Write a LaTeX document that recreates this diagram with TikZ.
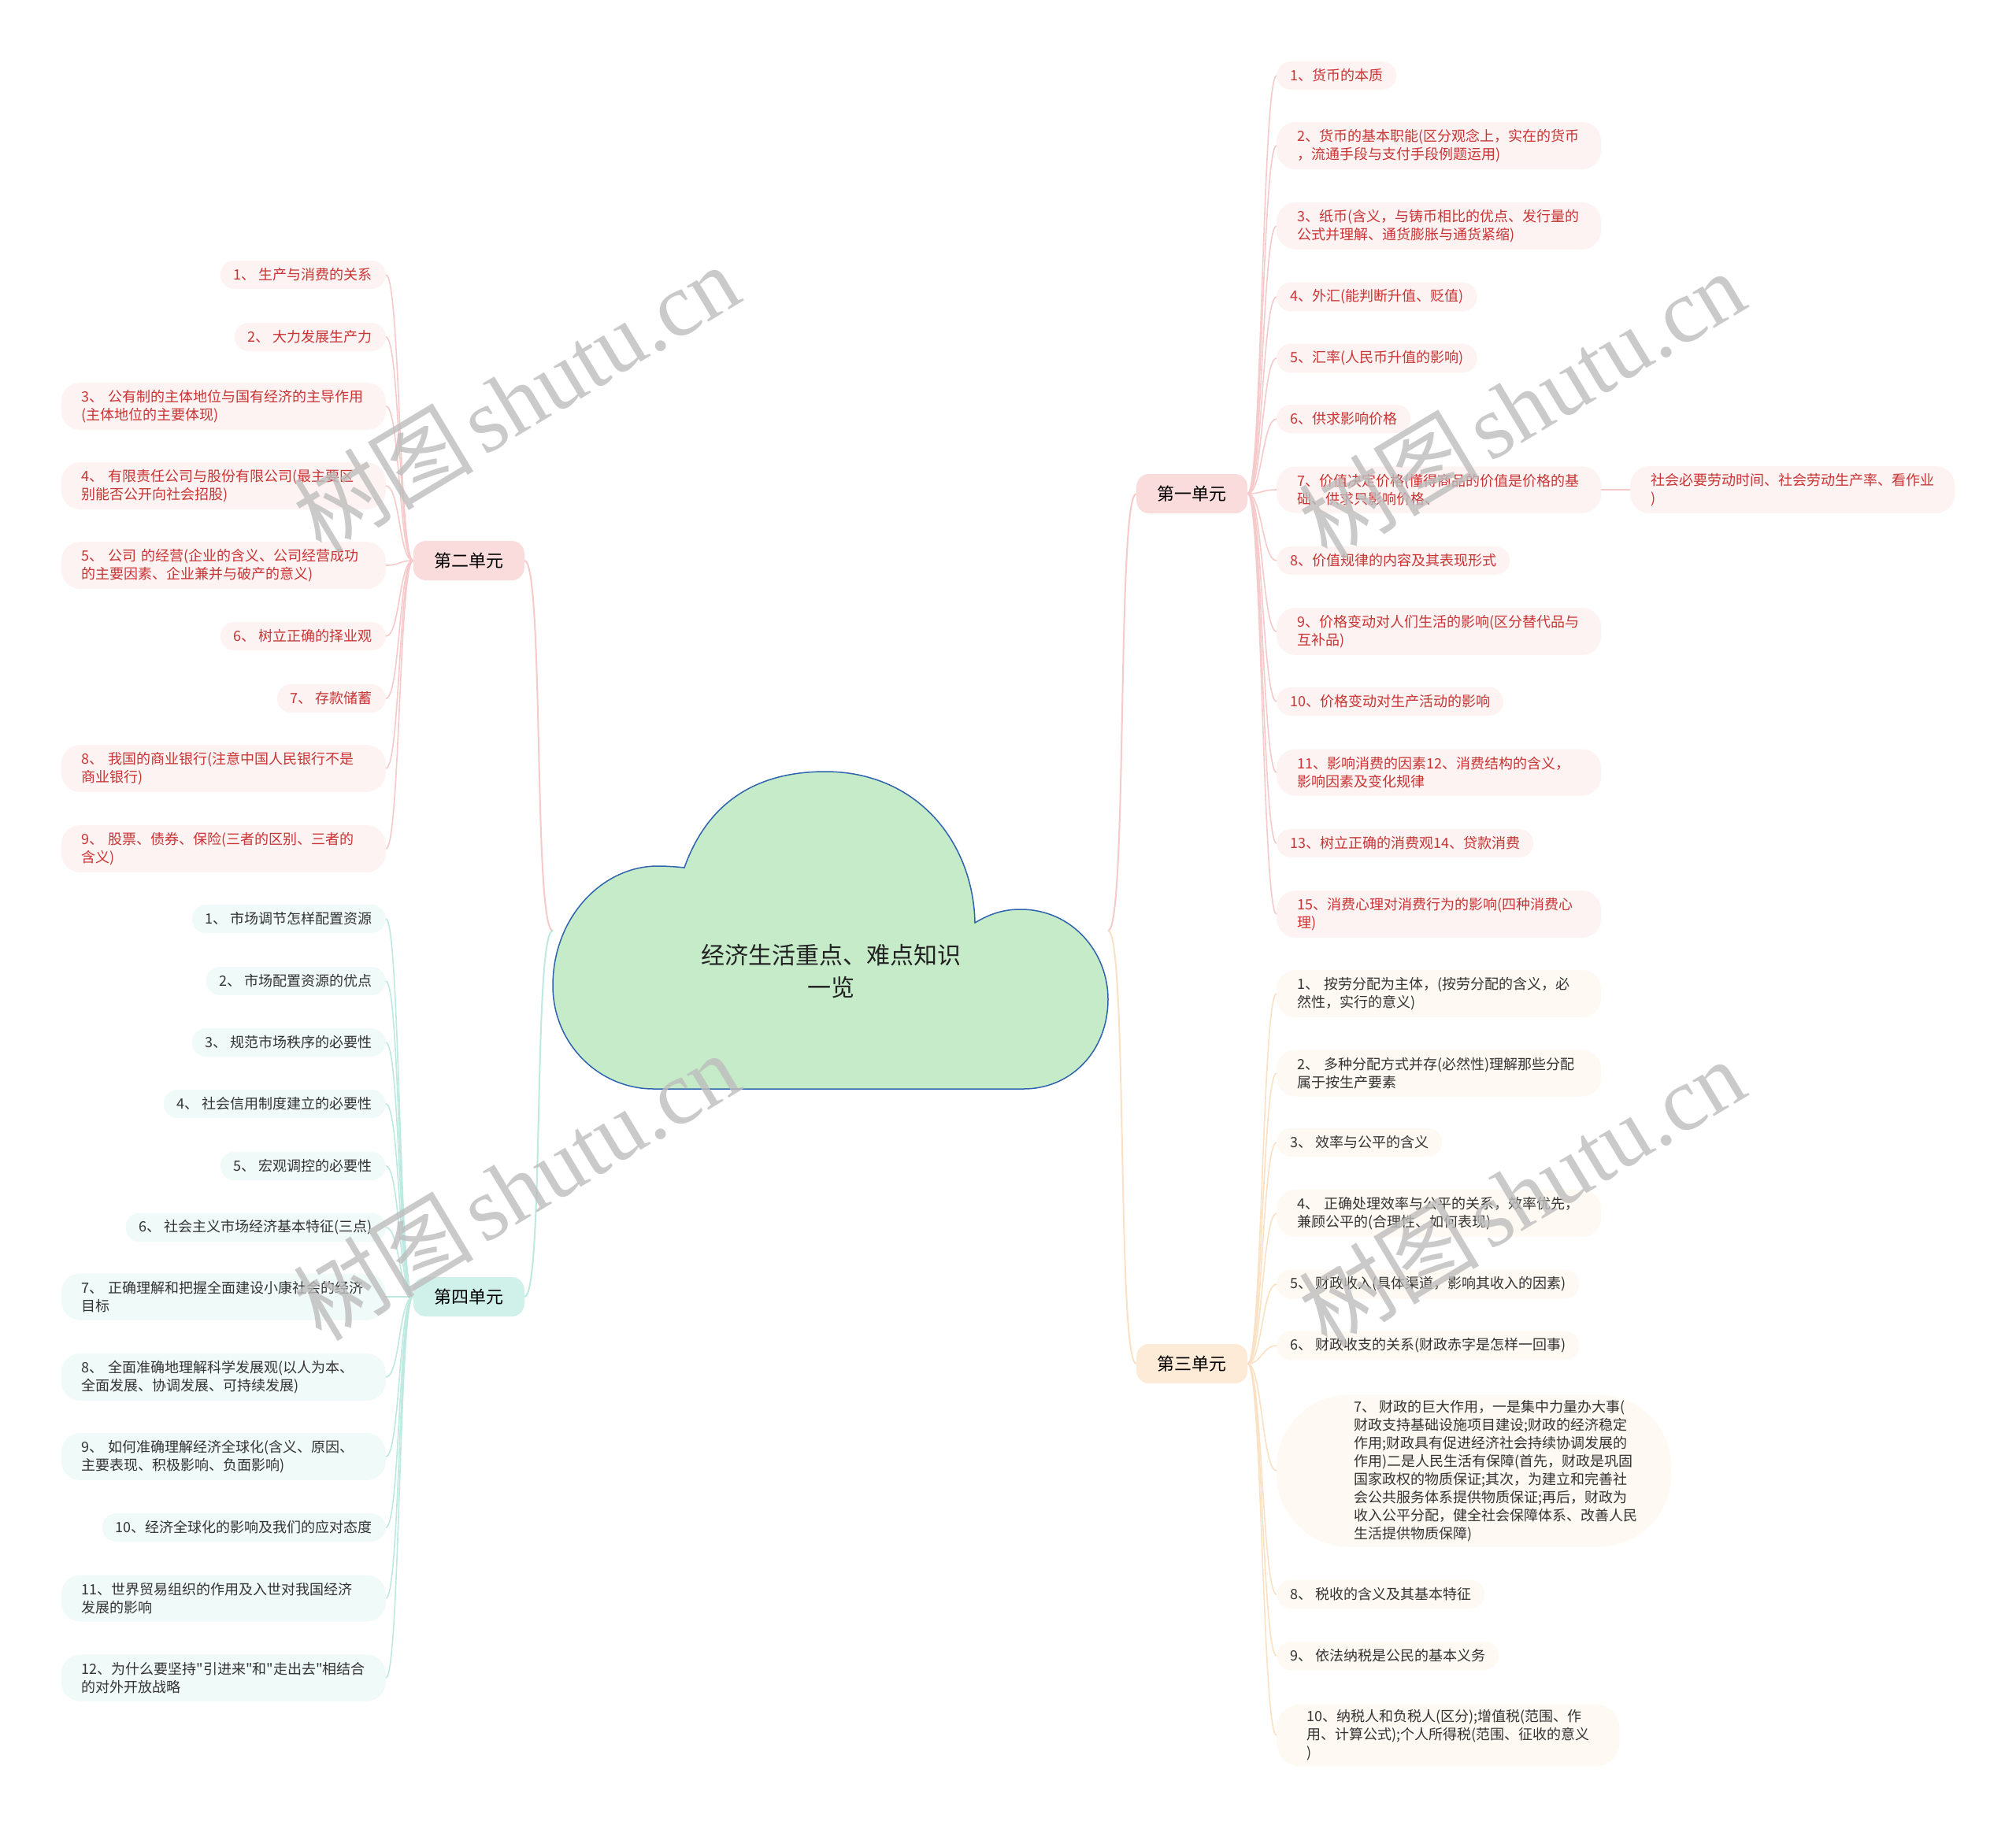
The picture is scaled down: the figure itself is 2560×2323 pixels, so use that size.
\documentclass[tikz,border=0pt]{standalone}
\usepackage{fontspec}
\setmainfont{Noto Sans CJK SC}
\newfontfamily\plainfont{Noto Sans CJK SC}
\newfontfamily\wmlatin{Liberation Serif}
\usetikzlibrary{calc}
\definecolor{pinkline}{HTML}{F6CACA}
\definecolor{peachline}{HTML}{FBE1C4}
\definecolor{tealline}{HTML}{BDE9E0}
\definecolor{pinkfill}{HTML}{FADCDC}
\definecolor{peachfill}{HTML}{FDEBD7}
\definecolor{tealfill}{HTML}{D0F1EA}
\definecolor{pinkleaf}{HTML}{FEF3F3}
\definecolor{peachleaf}{HTML}{FEF9F2}
\definecolor{tealleaf}{HTML}{F0FAF8}
\definecolor{redtext}{HTML}{C93434}
\definecolor{darktext}{HTML}{333333}
\definecolor{cloudfill}{HTML}{C6EBC9}
\definecolor{cloudline}{HTML}{2E63AE}
\definecolor{wmgray}{HTML}{BDBDBD}
\begin{document}
\begin{tikzpicture}[x=1pt,y=-1pt,
  unitbox/.style={rounded corners=16pt, minimum width=141pt, minimum height=50pt, inner sep=0pt, font=\fontsize{22}{26}\selectfont, text=black},
  leafbase/.style={rounded corners=18pt, align=left, font=\fontsize{18}{23}\selectfont, inner ysep=9pt},
  one/.style={leafbase, inner xsep=17pt, minimum height=36pt},
  two/.style={leafbase, inner xsep=26pt, text width=360pt, minimum height=59pt, rounded corners=24pt},
  r1/.style={fill=pinkleaf, text=redtext},
  r3/.style={fill=peachleaf, text=darktext},
  r4/.style={fill=tealleaf, text=darktext},
  pl/.style={draw=pinkline, line width=1.6pt},
  ol/.style={draw=peachline, line width=1.6pt},
  tl/.style={draw=tealline, line width=1.6pt},
  wm/.style={text=wmgray, opacity=0.8, font=\fontsize{115}{120}\selectfont, inner sep=0pt}
]
\useasboundingbox (0,0) rectangle (2560,2323);
\fill[white] (0,0) rectangle (2560,2323);

% cloud
\draw[fill=cloudfill, draw=cloudline, line width=1.5pt]
 (869,1102) .. controls (900,1015) and (965,980) .. (1048,980)
 .. controls (1165,980) and (1236,1070) .. (1238,1172)
 .. controls (1258,1160) and (1275,1155) .. (1296,1155)
 .. controls (1362,1155) and (1407,1210) .. (1407,1269)
 .. controls (1407,1335) and (1360,1383) .. (1300,1383)
 -- (830,1383)
 .. controls (760,1383) and (702,1325) .. (702,1252)
 .. controls (702,1165) and (765,1100) .. (835,1100)
 .. controls (848,1100) and (860,1101) .. (869,1102) -- cycle;
\node[font=\fontsize{30}{41}\selectfont, align=center, text={rgb,255:red,34;green,34;blue,34}] (root) at (1055,1234) {经济生活重点、难点知识\\一览};
\coordinate (cR) at (1407,1182);
\coordinate (cL) at (702,1182);

% unit nodes
\node[unitbox, fill=pinkfill, anchor=west] (u1) at (1443,627) {第一单元};
\node[unitbox, fill=pinkfill, anchor=east] (u2) at (666,712) {第二单元};
\node[unitbox, fill=peachfill, anchor=west] (u3) at (1443,1732) {第三单元};
\node[unitbox, fill=tealfill, anchor=east] (u4) at (666,1647) {第四单元};

\draw[pl, line width=2pt] (cR) .. controls (1432,1182) and (1418,627) .. (u1.west);
\draw[ol, line width=2pt] (cR) .. controls (1432,1182) and (1418,1732) .. (u3.west);
\draw[pl, line width=2pt] (cL) .. controls (677,1182) and (691,712) .. (u2.east);
\draw[tl, line width=2pt] (cL) .. controls (677,1182) and (691,1647) .. (u4.east);

% unit 1 leaves
\node[one,r1,anchor=west] (a1) at (1621,96) {1、货币的本质};
\node[two,r1,anchor=west] (a2) at (1621,185) {2、货币的基本职能(区分观念上，实在的货币\\，流通手段与支付手段例题运用)};
\node[two,r1,anchor=west] (a3) at (1621,287) {3、纸币(含义，与铸币相比的优点、发行量的\\公式并理解、通货膨胀与通货紧缩)};
\node[one,r1,anchor=west] (a4) at (1621,377) {4、外汇(能判断升值、贬值)};
\node[one,r1,anchor=west] (a5) at (1621,455) {5、汇率(人民币升值的影响)};
\node[one,r1,anchor=west] (a6) at (1621,532) {6、供求影响价格};
\node[two,r1,anchor=west] (a7) at (1621,622) {7、价值决定价格(懂得商品的价值是价格的基\\础、供求只影响价格、};
\node[two,r1,anchor=west] (a7c) at (2070,622) {社会必要劳动时间、社会劳动生产率、看作业\\)};
\node[one,r1,anchor=west] (a8) at (1621,712) {8、价值规律的内容及其表现形式};
\node[two,r1,anchor=west] (a9) at (1621,802) {9、价格变动对人们生活的影响(区分替代品与\\互补品)};
\node[one,r1,anchor=west] (a10) at (1621,891) {10、价格变动对生产活动的影响};
\node[two,r1,anchor=west] (a11) at (1621,981) {11、影响消费的因素12、消费结构的含义，\\影响因素及变化规律};
\node[one,r1,anchor=west] (a13) at (1621,1071) {13、树立正确的消费观14、贷款消费};
\node[two,r1,anchor=west] (a15) at (1621,1161) {15、消费心理对消费行为的影响(四种消费心\\理)};
\foreach \n in {a1,a2,a3,a4,a5,a6,a7,a8,a9,a10,a11,a13,a15}
  \draw[pl] (u1.east) .. controls +(18,0) and +(-18,0) .. (\n.west);
\draw[pl] (a7.east) -- (a7c.west);

% unit 2 leaves
\node[one,r1,anchor=east] (b1) at (490,349) {1、 生产与消费的关系};
\node[one,r1,anchor=east] (b2) at (490,428) {2、 大力发展生产力};
\node[two,r1,anchor=east] (b3) at (490,516) {3、 公有制的主体地位与国有经济的主导作用\\(主体地位的主要体现)};
\node[two,r1,anchor=east] (b4) at (490,617) {4、 有限责任公司与股份有限公司(最主要区\\别能否公开向社会招股)};
\node[two,r1,anchor=east] (b5) at (490,718) {5、 公司 的经营(企业的含义、公司经营成功\\的主要因素、企业兼并与破产的意义)};
\node[one,r1,anchor=east] (b6) at (490,808) {6、 树立正确的择业观};
\node[one,r1,anchor=east] (b7) at (490,887) {7、 存款储蓄};
\node[two,r1,anchor=east] (b8) at (490,976) {8、 我国的商业银行(注意中国人民银行不是\\商业银行)};
\node[two,r1,anchor=east] (b9) at (490,1078) {9、 股票、债券、保险(三者的区别、三者的\\含义)};
\foreach \n in {b1,b2,b3,b4,b5,b6,b7,b8,b9}
  \draw[pl] (u2.west) .. controls +(-18,0) and +(18,0) .. (\n.east);

% unit 4 leaves
\node[one,r4,anchor=east] (d1) at (490,1167) {1、 市场调节怎样配置资源};
\node[one,r4,anchor=east] (d2) at (490,1246) {2、 市场配置资源的优点};
\node[one,r4,anchor=east] (d3) at (490,1324) {3、 规范市场秩序的必要性};
\node[one,r4,anchor=east] (d4) at (490,1402) {4、 社会信用制度建立的必要性};
\node[one,r4,anchor=east] (d5) at (490,1481) {5、 宏观调控的必要性};
\node[one,r4,anchor=east] (d6) at (490,1559) {6、 社会主义市场经济基本特征(三点)};
\node[two,r4,anchor=east] (d7) at (490,1647) {7、 正确理解和把握全面建设小康社会的经济\\目标};
\node[two,r4,anchor=east] (d8) at (490,1749) {8、 全面准确地理解科学发展观(以人为本、\\全面发展、协调发展、可持续发展)};
\node[two,r4,anchor=east] (d9) at (490,1850) {9、 如何准确理解经济全球化(含义、原因、\\主要表现、积极影响、负面影响)};
\node[one,r4,anchor=east] (d10) at (490,1940) {10、经济全球化的影响及我们的应对态度};
\node[two,r4,anchor=east] (d11) at (490,2030) {11、世界贸易组织的作用及入世对我国经济\\发展的影响};
\node[two,r4,anchor=east, font=\fontsize{18}{23}\plainfont] (d12) at (490,2131) {12、为什么要坚持"引进来"和"走出去"相结合\\的对外开放战略};
\foreach \n in {d1,d2,d3,d4,d5,d6,d7,d8,d9,d10,d11,d12}
  \draw[tl] (u4.west) .. controls +(-18,0) and +(18,0) .. (\n.east);

% unit 3 leaves
\node[two,r3,anchor=west] (c1) at (1621,1262) {1、 按劳分配为主体，(按劳分配的含义，必\\然性，实行的意义)};
\node[two,r3,anchor=west] (c2) at (1621,1363) {2、 多种分配方式并存(必然性)理解那些分配\\属于按生产要素};
\node[one,r3,anchor=west] (c3) at (1621,1451) {3、 效率与公平的含义};
\node[two,r3,anchor=west] (c4) at (1621,1541) {4、 正确处理效率与公平的关系，效率优先，\\兼顾公平的(合理性、如何表现)};
\node[one,r3,anchor=west] (c5) at (1621,1631) {5、 财政收入(具体渠道，影响其收入的因素)};
\node[one,r3,anchor=west] (c6) at (1621,1709) {6、 财政收支的关系(财政赤字是怎样一回事)};
\node[r3, rounded corners=92pt, minimum width=501pt, minimum height=193pt, inner sep=0pt, anchor=west] (c7) at (1621,1868) {};
\node[anchor=west, align=left, font=\fontsize{18}{23}\selectfont, text=darktext, inner sep=0pt] (c7t) at (1719,1868) {7、 财政的巨大作用，一是集中力量办大事(\\财政支持基础设施项目建设;财政的经济稳定\\作用;财政具有促进经济社会持续协调发展的\\作用)二是人民生活有保障(首先，财政是巩固\\国家政权的物质保证;其次，为建立和完善社\\会公共服务体系提供物质保证;再后，财政为\\收入公平分配，健全社会保障体系、改善人民\\生活提供物质保障)};
\node[one,r3,anchor=west] (c8) at (1621,2025) {8、 税收的含义及其基本特征};
\node[one,r3,anchor=west] (c9) at (1621,2103) {9、 依法纳税是公民的基本义务};
\node[leafbase,r3,anchor=west, inner xsep=38pt, inner ysep=7pt, rounded corners=30pt] (c10) at (1621,2204) {10、纳税人和负税人(区分);增值税(范围、作\\用、计算公式);个人所得税(范围、征收的意义\\)};
\foreach \n in {c1,c2,c3,c4,c5,c6,c7,c8,c9,c10}
  \draw[ol] (u3.east) .. controls +(18,0) and +(-18,0) .. (\n.west);

% watermarks
\node[wm, rotate=31] (w1) at (655,505) {树图\hspace{12pt}{\wmlatin shutu.cn}};
\node[wm, rotate=31] (w2) at (1932,513) {树图\hspace{12pt}{\wmlatin shutu.cn}};
\node[wm, rotate=31] (w3) at (655,1506) {树图\hspace{12pt}{\wmlatin shutu.cn}};
\node[wm, rotate=31] (w4) at (1932,1514) {树图\hspace{12pt}{\wmlatin shutu.cn}};
\end{tikzpicture}
\end{document}
